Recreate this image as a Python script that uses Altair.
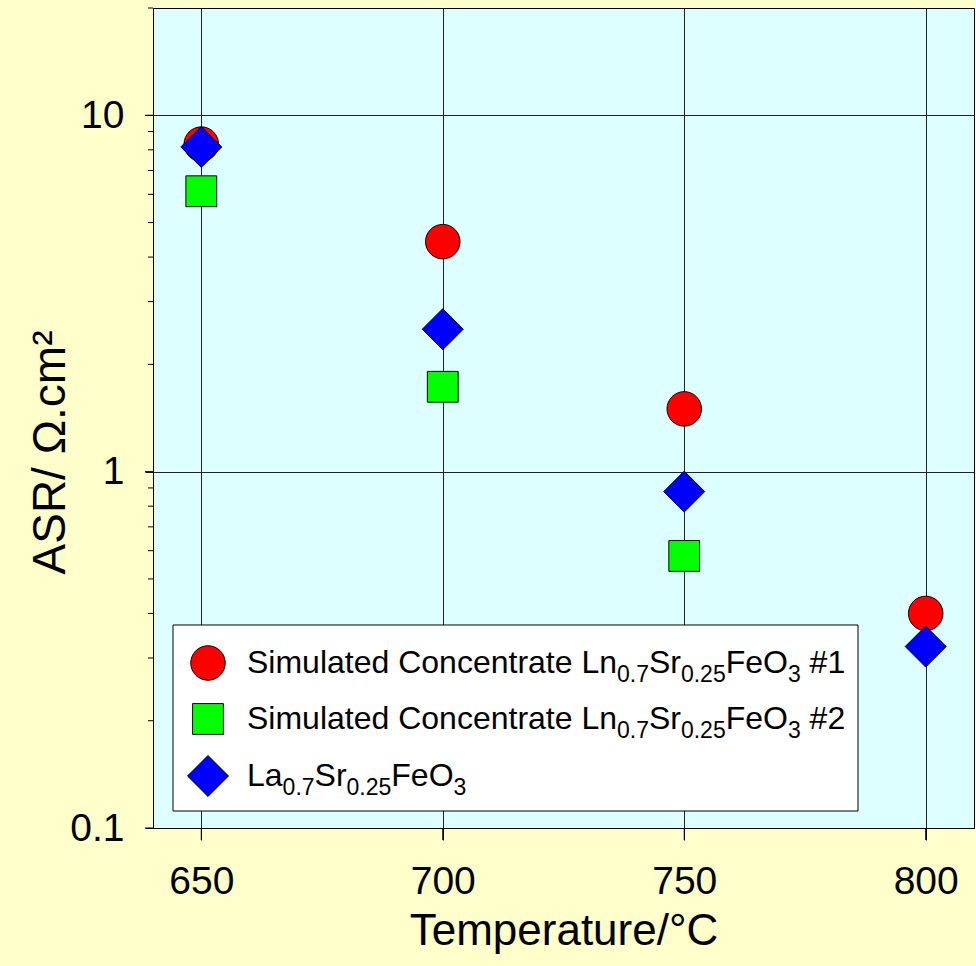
import altair as alt
import pandas as pd

# ASR measurements (ohm.cm^2) against cell temperature (deg C)
temps_sim1 = [650, 700, 750, 800]
asr_sim1 = [8.3, 4.42, 1.50, 0.40]

temps_sim2 = [650, 700, 750]
asr_sim2 = [6.12, 1.73, 0.58]

temps_lsf = [650, 700, 750, 800]
asr_lsf = [8.15, 2.51, 0.879, 0.323]

x_ticks = [650, 700, 750, 800]
y_major = [0.1, 1, 10]
y_minor = [0.2, 0.3, 0.4, 0.5, 0.6, 0.7, 0.8, 0.9,
           2, 3, 4, 5, 6, 7, 8, 9, 20]

FONT = "Liberation Sans"
W, H = 821, 820
X_TICK_LEN, Y_MAJOR_LEN, Y_MINOR_LEN = 12, 8, 5

x_scale = alt.Scale(domain=[640, 810], nice=False, zero=False)
y_scale = alt.Scale(type="log", domain=[0.1, 20], nice=False)

x_axis = alt.Axis(
    values=x_ticks, format="d", title="Temperature/°C", orient="bottom",
    labelFont=FONT, labelFontSize=39, labelColor="black", labelPadding=22,
    titleFont=FONT, titleFontSize=44, titleFontWeight="normal", titleColor="black",
    titlePadding=8,
    ticks=True, tickSize=X_TICK_LEN, tickColor="black", tickWidth=1, tickOpacity=1,
    domain=True, domainColor="black", domainWidth=1,
    grid=True, gridColor="#222222", gridOpacity=1, gridWidth=1,
)

y_axis = alt.Axis(
    values=y_major, format="~g", title="ASR/ Ω.cm²", orient="left",
    labelOverlap=False, labelFont=FONT, labelFontSize=39, labelColor="black",
    labelPadding=21,
    titleFont=FONT, titleFontSize=46, titleFontWeight="normal", titleColor="black",
    titleAngle=270, titleAlign="center", titleBaseline="alphabetic",
    titleX=-89, titleY=444,
    ticks=True, tickSize=Y_MAJOR_LEN, tickColor="black", tickWidth=1, tickOpacity=1,
    domain=True, domainColor="black", domainWidth=1,
    grid=True, gridColor="#222222", gridOpacity=1, gridWidth=1,
)


def series(temps, vals, shape, color, size):
    df = pd.DataFrame({"T": temps, "ASR": vals})
    return alt.Chart(df).mark_point(
        shape=shape, filled=True, fill=color, fillOpacity=1,
        stroke="black", strokeWidth=1, strokeOpacity=1, size=size,
    ).encode(
        x=alt.X("T:Q", scale=x_scale, axis=x_axis),
        y=alt.Y("ASR:Q", scale=y_scale, axis=y_axis),
    )


# outward tick marks along the left and bottom edges
def y_tick_rules(vals, length):
    return alt.Chart(pd.DataFrame({"v": vals})).mark_rule(
        color="black", strokeWidth=1, clip=False
    ).encode(
        y=alt.Y("v:Q", scale=y_scale, axis=y_axis),
        x=alt.value(-length), x2=alt.value(0),
    )


x_tick_rules = alt.Chart(pd.DataFrame({"v": x_ticks})).mark_rule(
    color="black", strokeWidth=1, clip=False
).encode(
    x=alt.X("v:Q", scale=x_scale, axis=x_axis),
    y=alt.value(H), y2=alt.value(H + X_TICK_LEN),
)

SIZE_CIRCLE, SIZE_SQUARE, SIZE_DIAMOND = 1190, 950, 1680

sim1 = series(temps_sim1, asr_sim1, "circle", "#FF0000", SIZE_CIRCLE)
sim2 = series(temps_sim2, asr_sim2, "square", "#00FF00", SIZE_SQUARE)
lsf = series(temps_lsf, asr_lsf, "diamond", "#0000FF", SIZE_DIAMOND)

# ---- legend, drawn by hand so the formulae can carry subscripts ----
one = pd.DataFrame({"k": [0]})
legend_box = alt.Chart(one).mark_rect(
    fill="white", stroke="black", strokeWidth=1
).encode(x=alt.value(20), x2=alt.value(705), y=alt.value(617), y2=alt.value(803))

LEG_X = 55
LEG_ROWS_Y = [655, 711, 768]


def legend_symbol(shape, color, size, ypix):
    return alt.Chart(one).mark_point(
        shape=shape, filled=True, fill=color, fillOpacity=1,
        stroke="black", strokeWidth=1, strokeOpacity=1, size=size,
    ).encode(x=alt.value(LEG_X), y=alt.value(ypix))


leg_sym = [
    legend_symbol("circle", "#FF0000", SIZE_CIRCLE, LEG_ROWS_Y[0]),
    legend_symbol("square", "#00FF00", SIZE_SQUARE, LEG_ROWS_Y[1]),
    legend_symbol("diamond", "#0000FF", SIZE_DIAMOND, LEG_ROWS_Y[2]),
]

# Arial / Liberation Sans advance widths (per 1000 em units)
ADV = {
    "S": 667, "i": 222, "m": 833, "u": 556, "l": 222, "a": 556, "t": 278,
    "e": 556, "d": 556, " ": 278, "C": 722, "o": 556, "n": 556, "c": 500,
    "r": 333, "L": 556, "F": 611, "O": 778, "#": 556, ".": 278,
    "0": 556, "1": 556, "2": 556, "3": 556, "5": 556, "7": 556,
}
MAIN_FS, SUB_FS, SUB_DROP = 32, 23, 9

legend_labels = [
    [("Simulated Concentrate Ln", 0), ("0.7", 1), ("Sr", 0), ("0.25", 1),
     ("FeO", 0), ("3", 1), (" #1", 0)],
    [("Simulated Concentrate Ln", 0), ("0.7", 1), ("Sr", 0), ("0.25", 1),
     ("FeO", 0), ("3", 1), (" #2", 0)],
    [("La", 0), ("0.7", 1), ("Sr", 0), ("0.25", 1), ("FeO", 0), ("3", 1)],
]

leg_text = []
for sym_y, parts in zip(LEG_ROWS_Y, legend_labels):
    xpos = 94.0
    base = sym_y + 10
    for txt, sub in parts:
        fs = SUB_FS if sub else MAIN_FS
        shown = txt.lstrip(" ")
        lead = (len(txt) - len(shown)) * ADV[" "] * fs / 1000.0
        leg_text.append(
            alt.Chart(one).mark_text(
                text=shown, align="left", baseline="alphabetic",
                font=FONT, fontSize=fs, color="black",
            ).encode(x=alt.value(xpos + lead), y=alt.value(base + (SUB_DROP if sub else 0)))
        )
        xpos += sum(ADV[ch] for ch in txt) * fs / 1000.0

chart = alt.layer(
    y_tick_rules(y_major, Y_MAJOR_LEN), y_tick_rules(y_minor, Y_MINOR_LEN), x_tick_rules,
    sim1, sim2, lsf, legend_box, *leg_sym, *leg_text
).properties(
    width=W, height=H,
    autosize=alt.AutoSizeParams(type="none"),
    padding={"left": 153, "top": 8, "right": 2, "bottom": 138},
).configure(
    background="#FFFFCC",
).configure_view(
    fill="#DDFFFF", stroke="black", strokeWidth=1,
)

chart.save("out.html", embed_options={"renderer": "svg", "actions": False})
